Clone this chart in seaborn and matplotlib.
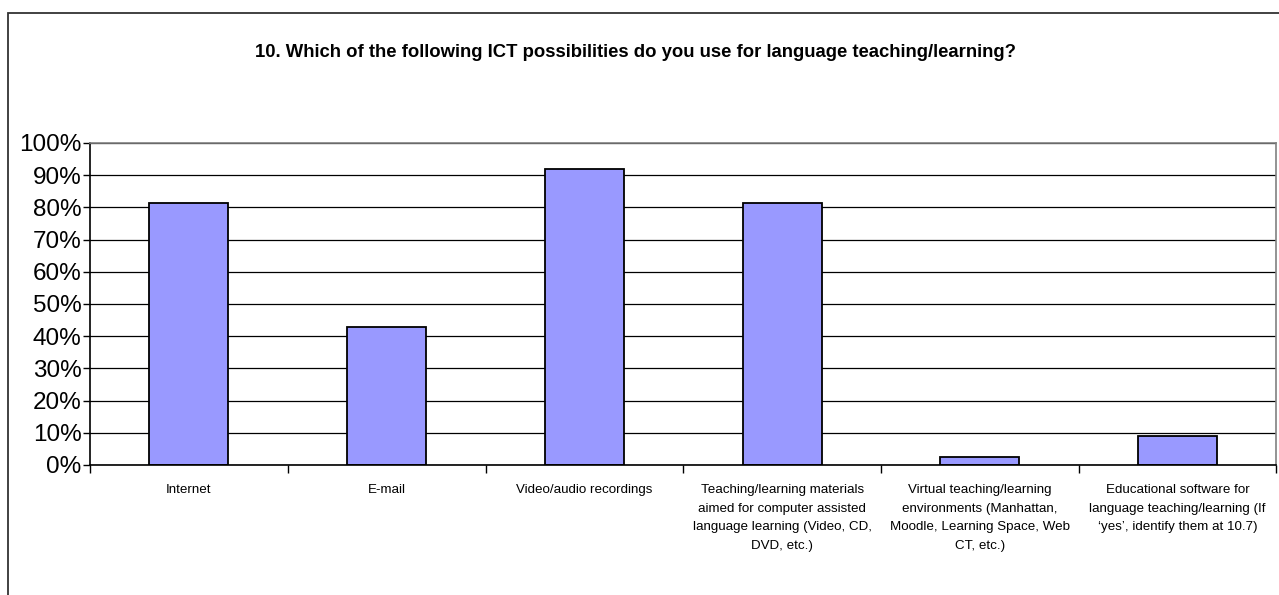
import seaborn as sns
import matplotlib.pyplot as plt
import matplotlib.patches as mpatches
from matplotlib.ticker import FixedLocator, FuncFormatter

# categories (tick labels) and shares of respondents in %
categories = [
    "Internet",
    "E-mail",
    "Video/audio recordings",
    "Teaching/learning materials\naimed for computer assisted\nlanguage learning (Video, CD,\nDVD, etc.)",
    "Virtual teaching/learning\nenvironments (Manhattan,\nMoodle, Learning Space, Web\nCT, etc.)",
    "Educational software for\nlanguage teaching/learning (If\n\u2018yes\u2019, identify them at 10.7)",
]
values = [81.3, 42.8, 92.0, 81.3, 2.6, 8.9]
y_ticks = [0, 10, 20, 30, 40, 50, 60, 70, 80, 90, 100]

title = "10. Which of the following ICT possibilities do you use for language teaching/learning?"

sns.set_style("white")
plt.rcParams["font.family"] = ["Liberation Sans", "DejaVu Sans"]
plt.rcParams["text.color"] = "black"
plt.rcParams["xtick.color"] = "black"
plt.rcParams["ytick.color"] = "black"

fig = plt.figure(figsize=(12.79, 5.95), dpi=100)
ax = fig.add_axes([0.0704, 0.2185, 0.9276, 0.5412])

sns.barplot(x=list(range(len(values))), y=values, color="#9999FF", saturation=1,
            edgecolor="black", linewidth=1.3, width=0.4, ax=ax)

ax.set_xlim(-0.5, len(values) - 0.5)
ax.set_ylim(0, 100)

# y axis
ax.set_yticks(y_ticks)
ax.yaxis.set_major_formatter(FuncFormatter(lambda v, p: f"{int(v)}%"))
ax.tick_params(axis="y", which="major", left=True, length=5, width=1, color="black",
               labelcolor="black", pad=1, labelsize=17.5)
ax.yaxis.grid(True, color="black", linewidth=0.9)
ax.set_axisbelow(True)

# x axis: labels at centres, ticks at category boundaries
ax.set_xticks(range(len(categories)))
ax.set_xticklabels(categories, fontsize=9.6, linespacing=1.72, color="black")
ax.tick_params(axis="x", which="major", length=0, pad=14)
ax.xaxis.set_minor_locator(FixedLocator([i + 0.5 for i in range(-1, len(values))]))
ax.tick_params(axis="x", which="minor", bottom=True, length=6, width=1, color="black")
ax.set_xlabel("")
ax.set_ylabel("")

for side in ["left", "bottom"]:
    ax.spines[side].set_color("black")
    ax.spines[side].set_linewidth(1.2)
for side in ["top", "right"]:
    ax.spines[side].set_color("#808080")
    ax.spines[side].set_linewidth(1.2)

fig.text(0.497, 0.911, title, ha="center", va="center", fontsize=13.3, fontweight="bold")

# chart frame (cut at right and bottom)
fig.patches.append(mpatches.Rectangle((0.0063, -0.1), 1.2, 1.078, transform=fig.transFigure,
                                      fill=False, edgecolor="#333333", linewidth=1.3))

fig.savefig("out.png", dpi=100)
